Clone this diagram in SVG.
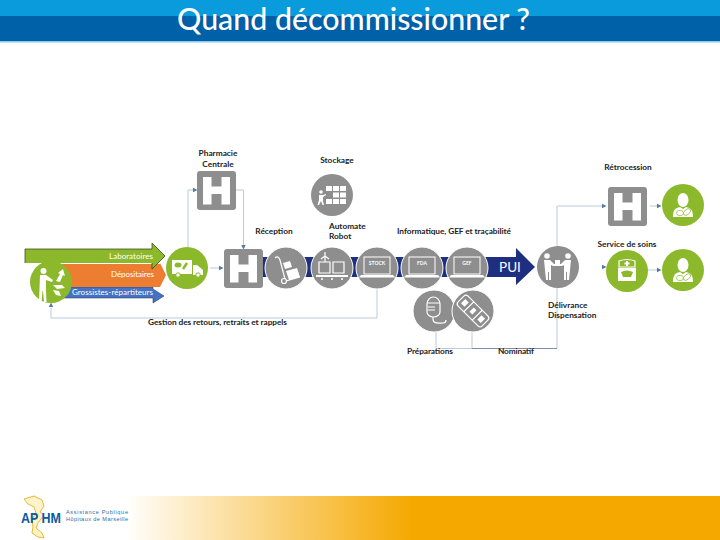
<svg xmlns="http://www.w3.org/2000/svg" width="720" height="540" viewBox="0 0 720 540">
<style>
.l{font-family:Lato,"Liberation Sans",sans-serif;font-size:8.300px;font-weight:700;fill:#222}
.w{font-family:Lato,"Liberation Sans",sans-serif;font-size:8px;fill:#fff}
.c{fill:none;stroke:#bcc9dd;stroke-width:1}
.g{fill:#8e8e8e}.v{fill:#8cb82b}
.ring{stroke:#fff;stroke-width:1}
.i{fill:#fff}.s{fill:none;stroke:#fff;stroke-width:1.200}
.t{font-family:Lato,"Liberation Sans",sans-serif;font-size:5px;font-weight:700;fill:#fff}
.a{fill:#5577aa}
</style>
<defs>
<linearGradient id="fg" x1="0" x2="1" y1="0" y2="0"><stop offset="0" stop-color="#fffefb"/><stop offset="0.48" stop-color="#f5a800"/><stop offset="1" stop-color="#f5a800"/></linearGradient>
<g id="h"><rect width="39" height="39" rx="3" class="g"/><path class="i" d="M6 6h8.500v9.500h10v-9.500h8.500v27.500h-8.500v-10.500h-10v10.500h-8.500z"/></g>
<g id="lap"><rect x="-13" y="-10" width="26" height="17" fill="none" stroke="#fff" stroke-width="1"/><path class="i" d="M-16 8h32l2 2.500h-36z"/></g>
<g id="doc"><circle r="21" class="v"/><ellipse cy="-5" rx="5.500" ry="7" class="i"/><path class="i" d="M-10 12c0-7 2-9 7-10l3 2 3-2c5 1 7 3 7 10z"/><ellipse cx="-3" cy="8" rx="3.500" ry="2.700" fill="#fff" stroke="#8cb82b" stroke-width=".7"/><ellipse cx="4" cy="7" rx="4.200" ry="2.500" fill="#fff" stroke="#8cb82b" stroke-width=".7" transform="rotate(-40 4 7)"/></g>
<path id="tip" class="a" d="M0-2.200L4.500 0L0 2.200z"/>
</defs>

<g id="header">
<rect width="720" height="16" fill="#0a9bdc"/><rect y="16" width="720" height="25" fill="#0060a8"/><rect y="41" width="720" height="1.500" fill="#8cc8ec"/>
<text x="353.500" y="30" text-anchor="middle" textLength="353" lengthAdjust="spacingAndGlyphs" font-family="Lato,'Liberation Sans',sans-serif" font-size="31" font-weight="500" fill="#fff">Quand décommissionner ?</text>
</g>

<g id="connectors">
<path class="c" d="M188 248V190H195M236 190H243.500V246M210 268H220M377 288V318H51V308M436 331V348.500H472M557 348.500V206H604M472 331V348.500M650 206H659M647 270H659"/>
<path d="M472 348.500H557" fill="none" stroke="#7a8fae" stroke-width="1"/>
<use href="#tip" x="193" y="190"/>
<use href="#tip" transform="translate(243.500 245) rotate(90)"/>
<use href="#tip" x="219" y="268"/>
<use href="#tip" transform="translate(51 307) rotate(-90)"/>
<use href="#tip" x="602" y="206"/>
<use href="#tip" x="657" y="206"/>
<use href="#tip" x="602" y="267"/>
<use href="#tip" x="657" y="270"/>
</g>

<g id="supply-arrows">
<path fill="#4472c4" stroke="#22334f" stroke-width=".5" d="M60 287H153V289L164 296L153 303V298H60z"/>
<path fill="#ed7d31" d="M60 264H160V263L166 275L160 287H60z"/>
<path fill="#8cb82b" d="M25 249H152V243L165 256L152 269V263H25z"/>
<path fill="none" stroke="#2e3a10" stroke-width=".7" d="M25 263V249H152V243L165 256L152 269V263"/>
<text class="w" x="153" y="259" text-anchor="end" textLength="44">Laboratoires</text>
<text class="w" x="154" y="277" text-anchor="end" textLength="43">Dépositaires</text>
<text class="w" x="153" y="295" text-anchor="end" textLength="81">Grossistes-répartiteurs</text>
</g>

<g id="pui-arrow">
<path fill="#1f2f7f" d="M263 257H516V248L535 267L516 285V277H263z"/>
<text x="510" y="272" text-anchor="middle" font-family="Lato,'Liberation Sans',sans-serif" font-size="13.500" fill="#fff">PUI</text>
</g>

<g id="grossistes"><circle cx="51" cy="282" r="21" class="v"/>
<circle cx="43.500" cy="271" r="3" class="i"/><path class="i" d="M40 275h6l7 5-1 2-6-2v10l.5 12h-2.500l-1-11h-.5l-1 11h-2.500z"/>
<path class="i" d="M56 281l4-7-2-1 5-4 2 7-2-1-3 7zM53 285l9 0 3 3-8 1zM53 290l6 1 2 5-5-1z"/></g>

<g id="livraison"><circle cx="187" cy="268" r="21" class="v"/>
<rect x="172" y="260" width="20" height="14" class="i"/><path class="i" d="M193 265h4l6 5v5h-10z"/><circle cx="178" cy="275" r="2.200" class="i" stroke="#8cb82b"/><circle cx="198" cy="275" r="2.200" class="i" stroke="#8cb82b"/>
<ellipse cx="178" cy="265" rx="3.500" ry="2.500" fill="#8cb82b"/><path d="M183 269l4-6" stroke="#8cb82b" stroke-width="2.500"/></g>

<g id="pharmacie-centrale"><use href="#h" x="197" y="171"/><text class="l" x="218" y="156" text-anchor="middle">Pharmacie</text><text class="l" x="218" y="167" text-anchor="middle">Centrale</text></g>
<g id="hopital"><use href="#h" x="224" y="249"/></g>
<g id="reception"><circle cx="286" cy="268" r="21" class="g ring"/>
<path class="s" stroke-width="1.500" d="M275 258c2-2 4-1 5 2l5 19"/><circle cx="284" cy="281" r="2.500" class="s"/><path class="s" d="M286 281l14-4"/><path class="i" d="M286 271l11-3 3 9-11 3z"/><path class="i" d="M283 263l7-2 2 6-7 2z"/>
<text class="l" x="274" y="234" text-anchor="middle">Réception</text></g>
<g id="automate"><circle cx="332" cy="268" r="21" class="g ring"/>
<path class="s" d="M319 262h11v11h-11zM333 262h11v11h-11z"/><path class="i" d="M316 275h32v2h-32z"/><path class="s" d="M325 262v-10M321 259l4-3 4 3"/><circle cx="322" cy="279" r="1" class="i"/><circle cx="332" cy="279" r="1" class="i"/><circle cx="342" cy="279" r="1" class="i"/>
<text class="l" x="329" y="229">Automate</text><text class="l" x="329" y="239">Robot</text></g>
<g id="stock"><circle cx="377" cy="268" r="21" class="g ring"/><use href="#lap" x="377" y="267"/><text class="t" x="377" y="265" text-anchor="middle">STOCK</text></g>
<g id="fda"><circle cx="422" cy="268" r="21" class="g ring"/><use href="#lap" x="422" y="267"/><text class="t" x="422" y="265" text-anchor="middle">FDA</text></g>
<g id="gef"><circle cx="467" cy="268" r="21" class="g ring"/><use href="#lap" x="467" y="267"/><text class="t" x="467" y="265" text-anchor="middle">GEF</text></g>
<text class="l" x="397" y="234" textLength="114">Informatique, GEF et traçabilité</text>

<g id="stockage"><circle cx="332" cy="195" r="21" class="g"/>
<path class="i" d="M326 186h6v5h-6zM333 186h6v5h-6zM340 186h6v5h-6zM333 192.500h6v5h-6zM340 192.500h6v5h-6zM326 199h6v5h-6zM333 199h6v5h-6zM340 199h6v5h-6z"/><circle cx="321" cy="192" r="1.800" class="i"/><path class="i" d="M319 195h4l3-1v1l-3 2v4l1 4h-1.500l-1.500-4-2 4h-1.500l1.500-5z"/>
<text class="l" x="337" y="163" text-anchor="middle">Stockage</text></g>

<g id="delivrance"><circle cx="558" cy="267" r="21" class="g"/>
<circle cx="547" cy="256" r="2.800" class="i"/><circle cx="568" cy="256" r="2.800" class="i"/><path class="i" d="M544 260h6l4 4h2v2h-3l-2-1v15h-2v-8h-1v8h-2zM571 260h-6l-4 4h-2v2h3l2-1v15h2v-8h1v8h2z"/>
<rect x="555" y="260" width="5" height="6" class="i"/>
<text class="l" x="548" y="308">Délivrance</text><text class="l" x="548" y="318">Dispensation</text></g>

<g id="preparations"><circle cx="434" cy="311" r="21" class="g ring"/>
<path class="s" stroke-width="1.500" d="M427 304a6.500 7 0 0 1 13 0v8a6.500 5 0 0 1-13 0z"/><path class="s" d="M427 303h13M428 307h7M428 310h7M433 317v2c0 5 5 4 10 4 2 0 3-1 3-3"/><text class="l" x="430" y="354" text-anchor="middle" textLength="46">Préparations</text></g>
<g id="nominatif"><circle cx="473" cy="311" r="21" class="g ring"/>
<g transform="rotate(45 473 311)"><rect x="456" y="304" width="34" height="14" rx="3" class="s"/><path class="s" d="M467 304v14M479 304v14"/><rect x="459" y="308" width="5" height="6" class="i"/><rect x="471" y="308" width="4" height="6" class="i"/><rect x="482" y="308" width="5" height="6" class="i"/></g>
<text class="l" x="516" y="354" text-anchor="middle" textLength="36">Nominatif</text></g>

<text id="retours" class="l" x="148" y="325" textLength="139">Gestion des retours, retraits et rappels</text>

<g id="retrocession"><use href="#h" x="608" y="187"/><text class="l" x="628" y="170" text-anchor="middle">Rétrocession</text></g>
<g id="patient-1"><use href="#doc" x="683" y="205"/></g>
<g id="service-soins"><circle cx="627" cy="271" r="21" class="v"/>
<path class="s" d="M619 261q8-3 16 0v6h-16z"/><path class="i" d="M626 261h2v1.500h1.500v2h-1.500v1.500h-2v-1.500h-1.500v-2h1.500z"/><path class="i" d="M618 268h18v13h-18z"/><path d="M621 272q6-3 12 0l-2 5h-8z" fill="#8cb82b"/>
<text class="l" x="627" y="247" text-anchor="middle">Service de soins</text></g>
<g id="patient-2"><use href="#doc" x="683" y="270"/></g>

<g id="footer">
<rect x="128" y="496" width="592" height="44" fill="url(#fg)"/>
<path fill="#fdf3c8" stroke="#e8b93a" stroke-width="1" d="M24 499l10-3 8 4 2 6-4 6 4 3-6 8-2 5 6 5 2 5-6-1-6-4 1-6-1-8 4-6-2-6-6-3z"/>
<text x="21" y="523" font-family="'Liberation Sans',sans-serif" font-weight="700" font-size="14" fill="#0a5a9e" textLength="40" lengthAdjust="spacingAndGlyphs">AP  HM</text>
<text x="66" y="514" font-family="'Liberation Sans',sans-serif" font-size="5.600" fill="#2d6ea8" textLength="62">Assistance Publique</text>
<text x="66" y="521" font-family="'Liberation Sans',sans-serif" font-size="5.600" fill="#2d6ea8" textLength="62">Hôpitaux de Marseille</text>
</g>
</svg>
